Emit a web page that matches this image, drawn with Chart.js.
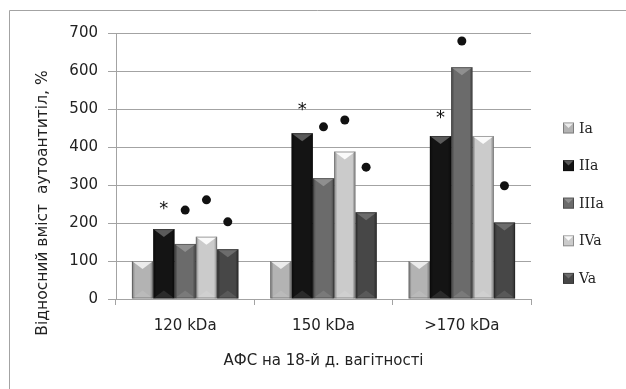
<!DOCTYPE html>
<html><head><meta charset="utf-8">
<script src="https://cdn.jsdelivr.net/npm/chart.js@4/dist/chart.umd.min.js"></script>
<style>html,body{margin:0;padding:0;background:#fff}</style>
</head><body>
<canvas id="c" width="626" height="389"></canvas>
<script>
const categories = ['120 kDa', '150 kDa', '>170 kDa'];
const seriesNames = ['Ia', 'IIa', 'IIIa', 'IVa', 'Va'];
const seriesIa   = [100, 100, 100];
const seriesIIa  = [184, 436, 429];
const seriesIIIa = [145, 318, 610];
const seriesIVa  = [164, 388, 429];
const seriesVa   = [131, 228, 201];
// significance markers (value level), null = none
const starIIa = [250, 510, 489];
const dotIIIa = [234, 453, 679];
const dotIVa  = [261, 471, null];
const dotVa   = [203, 347, 298];
const yTitle = 'Відносний вміст  аутоантитіл, %';
const xTitle = 'АФС на 18-й д. вагітності';

const fills = ['#b3b3b3', '#141414', '#6b6b6b', '#cbcbcb', '#474747'];
const caps  = ['#ececec', '#5a5a5a', '#8f8f8f', '#fafafa', '#6c6c6c'];
const allSeries = [seriesIa, seriesIIa, seriesIIIa, seriesIVa, seriesVa];

const markerSets = [
  {ds: 1, vals: starIIa, type: 'star'},
  {ds: 2, vals: dotIIIa, type: 'dot'},
  {ds: 3, vals: dotIVa, type: 'dot'},
  {ds: 4, vals: dotVa, type: 'dot'}
];

const FONT = 'DejaVu Sans';

const framePlugin = {
  id: 'frame',
  beforeDraw(chart) {
    const ctx = chart.ctx;
    ctx.save();
    ctx.fillStyle = '#fff';
    ctx.fillRect(0, 0, chart.width, chart.height);
    ctx.strokeStyle = '#a3a3a3';
    ctx.lineWidth = 1;
    ctx.beginPath();
    ctx.moveTo(9.5, chart.height);
    ctx.lineTo(9.5, 10.5);
    ctx.lineTo(chart.width, 10.5);
    ctx.stroke();
    ctx.restore();
  },
  afterDraw(chart) {
    const ctx = chart.ctx;
    // y axis title
    ctx.save();
    ctx.fillStyle = '#222';
    ctx.font = '15.5px "' + FONT + '"';
    ctx.translate(43, 203);
    ctx.rotate(-Math.PI / 2);
    ctx.textAlign = 'center';
    ctx.textBaseline = 'middle';
    ctx.fillText(yTitle, 0, 0);
    ctx.restore();
    // legend
    ctx.save();
    seriesNames.forEach((n, i) => {
      const cy = 128 + i * 37.6;
      const bx = 563, bs = 11;
      ctx.fillStyle = fills[i];
      ctx.fillRect(bx, cy - bs / 2, bs, bs);
      ctx.fillStyle = caps[i];
      ctx.beginPath();
      ctx.moveTo(bx, cy - bs / 2);
      ctx.lineTo(bx + bs, cy - bs / 2);
      ctx.lineTo(bx + bs / 2, cy);
      ctx.closePath();
      ctx.fill();
      ctx.strokeStyle = 'rgba(0,0,0,0.3)';
      ctx.strokeRect(bx + 0.5, cy - bs / 2 + 0.5, bs - 1, bs - 1);
      ctx.fillStyle = '#222';
      ctx.font = '14px "DejaVu Serif"';
      ctx.textAlign = 'left';
      ctx.textBaseline = 'middle';
      ctx.fillText(n, 579, cy + 1);
    });
    ctx.restore();
  }
};

const bevelPlugin = {
  id: 'bevel',
  afterDatasetsDraw(chart) {
    const ctx = chart.ctx;
    chart.data.datasets.forEach((ds, di) => {
      const meta = chart.getDatasetMeta(di);
      meta.data.forEach(bar => {
        const {x, y, base, width} = bar.getProps(['x', 'y', 'base', 'width'], true);
        const l = x - width / 2, r = x + width / 2, t = y, b = base;
        const h = b - t;
        const d = Math.min(8, h / 2);
        ctx.save();
        ctx.fillStyle = 'rgba(0,0,0,0.16)';
        ctx.fillRect(l, t, 2.5, h);
        ctx.fillRect(r - 2.5, t, 2.5, h);
        ctx.fillStyle = caps[di];
        ctx.beginPath();
        ctx.moveTo(l, t); ctx.lineTo(r, t); ctx.lineTo(x, t + d); ctx.closePath();
        ctx.fill();
        ctx.fillStyle = 'rgba(255,255,255,0.1)';
        ctx.beginPath();
        ctx.moveTo(l, b); ctx.lineTo(r, b); ctx.lineTo(x, b - d); ctx.closePath();
        ctx.fill();
        ctx.strokeStyle = 'rgba(0,0,0,0.35)';
        ctx.lineWidth = 1;
        ctx.strokeRect(l + 0.5, t + 0.5, width - 1, h - 1);
        ctx.restore();
      });
    });
  }
};

const markerPlugin = {
  id: 'markers',
  afterDatasetsDraw(chart) {
    const ctx = chart.ctx;
    const ys = chart.scales.y;
    markerSets.forEach(ms => {
      const meta = chart.getDatasetMeta(ms.ds);
      ms.vals.forEach((v, j) => {
        if (v == null) return;
        const px = meta.data[j].x;
        const py = ys.getPixelForValue(v);
        ctx.save();
        ctx.fillStyle = '#111';
        if (ms.type === 'dot') {
          ctx.beginPath();
          ctx.arc(px, py, 4.5, 0, Math.PI * 2);
          ctx.fill();
        } else {
          ctx.font = '18px "' + FONT + '"';
          ctx.textAlign = 'center';
          ctx.textBaseline = 'alphabetic';
          ctx.fillText('*', px, py + 10);
        }
        ctx.restore();
      });
    });
  }
};

new Chart(document.getElementById('c'), {
  type: 'bar',
  data: {
    labels: categories,
    datasets: seriesNames.map((n, i) => ({
      label: n,
      data: allSeries[i],
      backgroundColor: fills[i],
      borderWidth: 0,
      categoryPercentage: 0.77,
      barPercentage: 1.0
    }))
  },
  options: {
    responsive: false,
    animation: false,
    devicePixelRatio: 1,
    layout: {padding: {left: 50, top: 33, right: 95, bottom: 0}},
    plugins: {legend: {display: false}, tooltip: {enabled: false}, title: {display: false}},
    scales: {
      x: {
        grid: {display: true, drawOnChartArea: false, drawTicks: true, tickLength: 6, color: '#a3a3a3', offset: true},
        border: {color: '#a3a3a3'},
        ticks: {color: '#222', font: {family: FONT, size: 15}, padding: 12},
        title: {display: true, text: xTitle, color: '#222', font: {family: FONT, size: 15}, padding: {top: 4, bottom: 19}},
        afterFit(s) { s.height = 90; }
      },
      y: {
        min: 0, max: 700,
        ticks: {stepSize: 100, color: '#222', font: {family: FONT, size: 15}, padding: 10},
        grid: {color: '#a3a3a3', tickLength: 8, lineWidth: 1},
        border: {color: '#a3a3a3'},
        afterFit(s) { s.width = 66; }
      }
    }
  },
  plugins: [framePlugin, bevelPlugin, markerPlugin]
});
</script>
</body></html>
